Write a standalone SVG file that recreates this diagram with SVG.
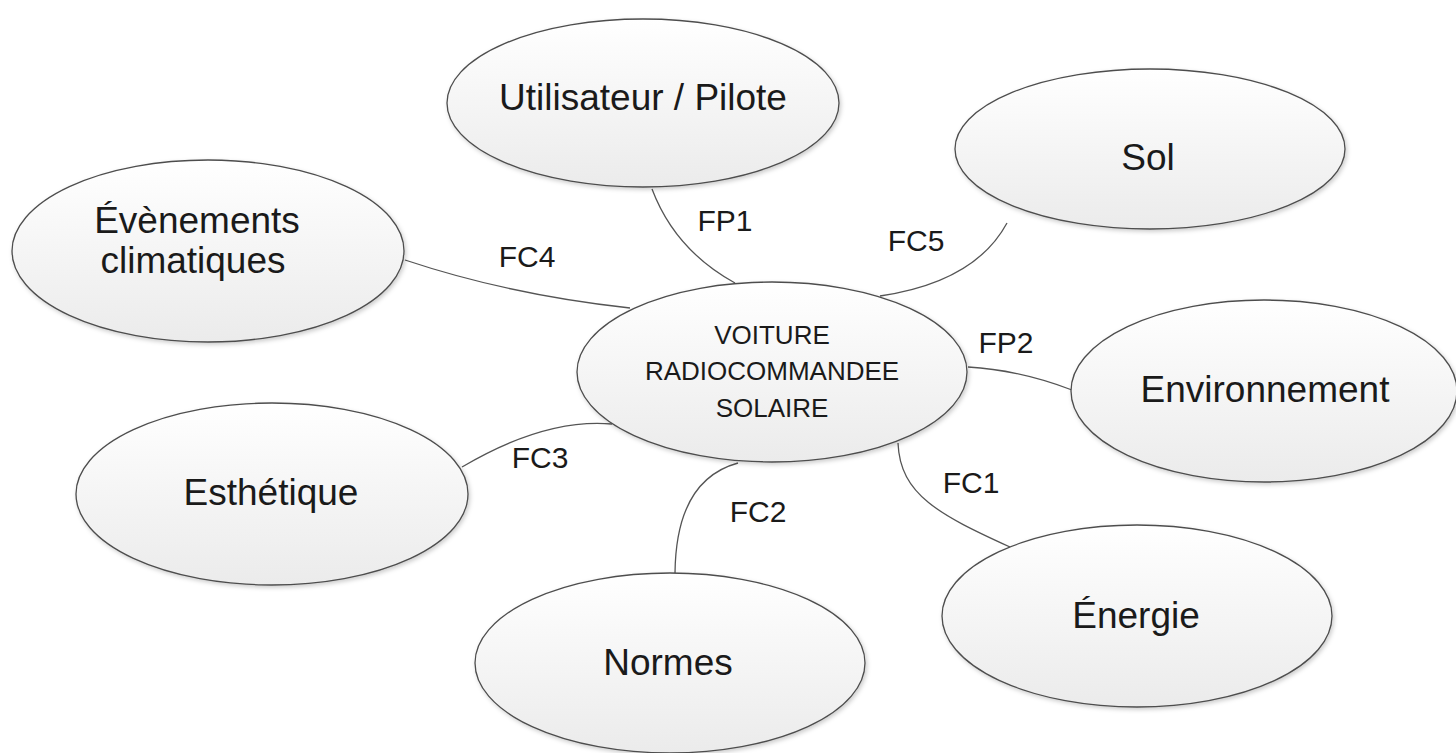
<svg xmlns="http://www.w3.org/2000/svg" width="1456" height="753" viewBox="0 0 1456 753">
  <defs>
    <linearGradient id="fillGrad" x1="0" y1="0" x2="0" y2="1">
      <stop offset="0" stop-color="#ffffff"/>
      <stop offset="1" stop-color="#ebebeb"/>
    </linearGradient>
    <filter id="shadow" x="-10%" y="-10%" width="120%" height="125%">
      <feDropShadow dx="1.5" dy="2" stdDeviation="2" flood-color="#000" flood-opacity="0.2"/>
    </filter>
  </defs>
  <style>
    .node ellipse { fill: url(#fillGrad); stroke: #4d4d4d; stroke-width: 1.3; filter: url(#shadow); }
    .node text { font-family: "Liberation Sans", Arial, sans-serif; font-size: 37px; fill: #1a1a1a; text-anchor: middle; }
    .node text.small { font-size: 26px; }
    .conn path { fill: none; stroke: #555555; stroke-width: 1.3; }
    .lbl { font-family: "Liberation Sans", Arial, sans-serif; font-size: 30px; fill: #1a1a1a; text-anchor: middle; }
  </style>
  <rect width="1456" height="753" fill="#ffffff"/>

  <g id="connectors" class="conn">
    <path d="M652,189 Q675,250 735,283"/>
    <path d="M1007,223 Q975,282 880,296"/>
    <path d="M405,260 Q510,295 630,308"/>
    <path d="M462,467 Q545,418 612,424"/>
    <path d="M738,463 Q676,480 675,573"/>
    <path d="M898,443 C900,495 940,515 1010,547"/>
    <path d="M968,367 Q1020,370 1072,390"/>
  </g>

  <g id="labels">
    <text class="lbl" x="725" y="231">FP1</text>
    <text class="lbl" x="916" y="251">FC5</text>
    <text class="lbl" x="527" y="267">FC4</text>
    <text class="lbl" x="1006" y="353">FP2</text>
    <text class="lbl" x="540" y="468">FC3</text>
    <text class="lbl" x="971" y="493">FC1</text>
    <text class="lbl" x="758" y="522">FC2</text>
  </g>

  <g id="node-utilisateur" class="node">
    <ellipse cx="643" cy="103" rx="196" ry="84"/>
    <text x="643" y="110">Utilisateur / Pilote</text>
  </g>
  <g id="node-sol" class="node">
    <ellipse cx="1150" cy="149" rx="195" ry="80"/>
    <text x="1148" y="170">Sol</text>
  </g>
  <g id="node-evenements" class="node">
    <ellipse cx="208" cy="251" rx="196" ry="91"/>
    <text x="197" y="233">Évènements</text>
    <text x="193" y="273">climatiques</text>
  </g>
  <g id="node-voiture" class="node">
    <ellipse cx="772" cy="372" rx="195" ry="90"/>
    <text class="small" x="772" y="344">VOITURE</text>
    <text class="small" x="772" y="380">RADIOCOMMANDEE</text>
    <text class="small" x="772" y="417">SOLAIRE</text>
  </g>
  <g id="node-environnement" class="node">
    <ellipse cx="1264" cy="391" rx="193" ry="91"/>
    <text x="1265" y="402">Environnement</text>
  </g>
  <g id="node-esthetique" class="node">
    <ellipse cx="272" cy="494" rx="196" ry="91"/>
    <text x="271" y="505">Esthétique</text>
  </g>
  <g id="node-energie" class="node">
    <ellipse cx="1137" cy="616" rx="195" ry="91"/>
    <text x="1136" y="628">Énergie</text>
  </g>
  <g id="node-normes" class="node">
    <ellipse cx="670" cy="663" rx="195" ry="90"/>
    <text x="668" y="675">Normes</text>
  </g>
</svg>
